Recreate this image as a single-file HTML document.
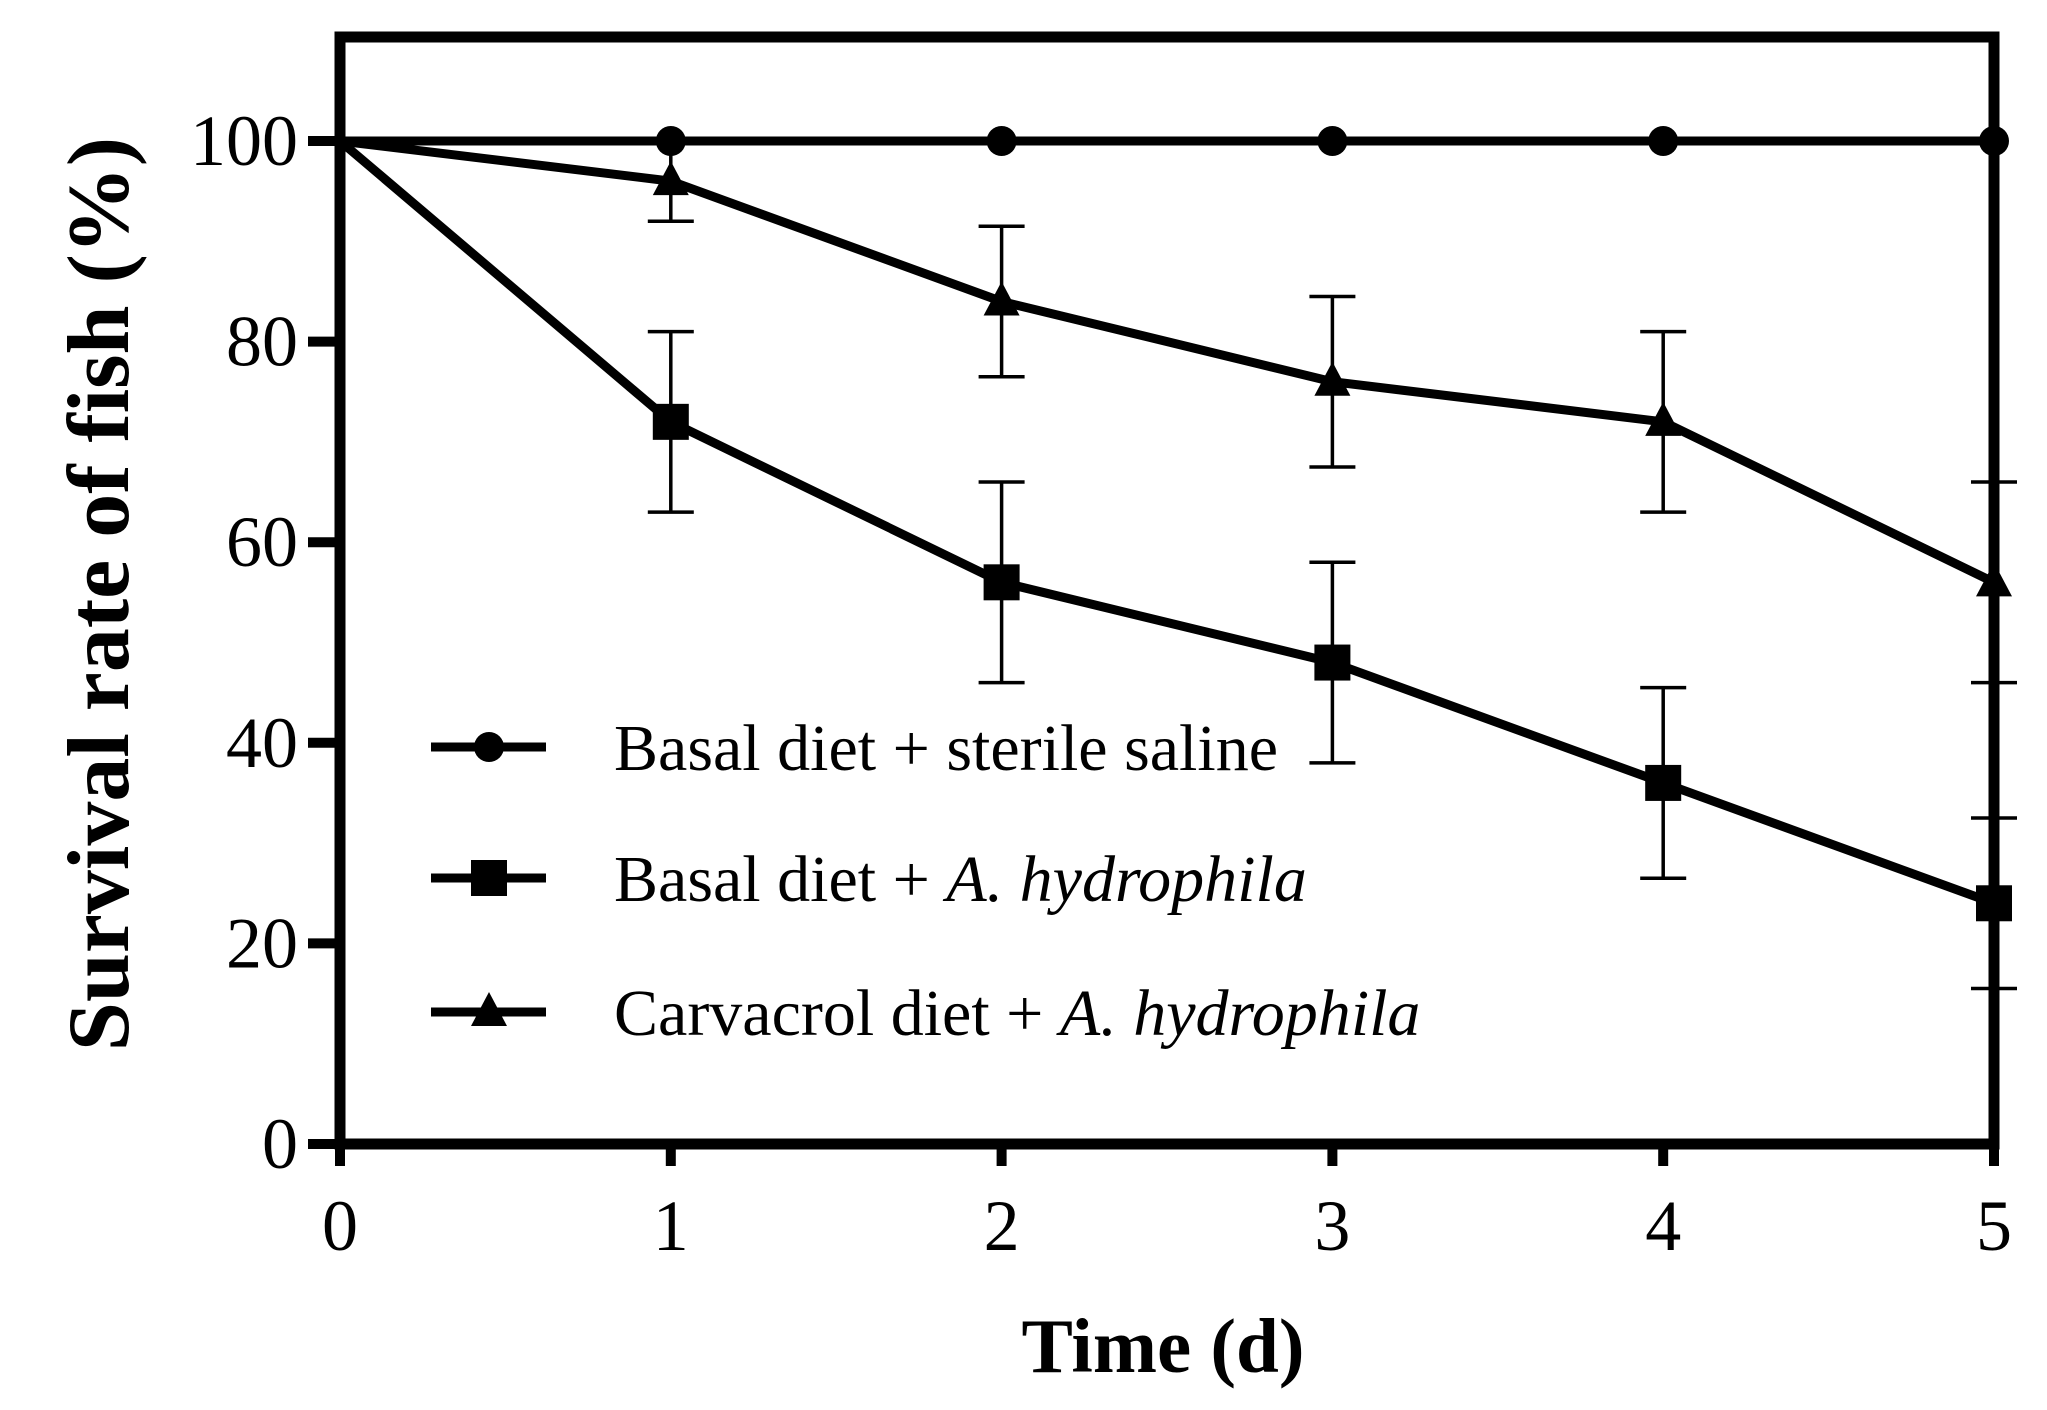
<!DOCTYPE html>
<html><head><meta charset="utf-8"><style>
html,body{margin:0;padding:0;background:#fff;}
svg{display:block;font-family:"Liberation Serif",serif;}
</style></head><body>
<svg id="chart" width="2047" height="1410" viewBox="0 0 2047 1410">
<g id="frame"></g><g id="series"></g><g id="legend"></g>
<text x="1163" y="1372" text-anchor="middle" font-size="77" font-weight="bold">Time (d)</text>
<text transform="translate(128,594) rotate(-90)" text-anchor="middle" font-size="88" font-weight="bold">Survival rate of fish (%)</text>
</svg>
<script>
const days=[0,1,2,3,4,5];
const salineVals=[100,100,100,100,100,100];
const basalVals=[100,72,56,48,36,24];
const basalErr=[0,9,10,10,9.5,8.5];
const carvVals=[100,96,84,76,72,56];
const carvErr=[0,4,7.5,8.5,9,10];
const yTicks=[0,20,40,60,80,100];
const xTicks=[0,1,2,3,4,5];
const NS='http://www.w3.org/2000/svg';
const X0=340,X1=1994,Y0=1144,Y100=141,TOP=37;
const xs=d=>X0+(X1-X0)*d/5;
const ys=v=>Y0-(Y0-Y100)*v/100;
function mk(tag,attrs,parent){const e=document.createElementNS(NS,tag);for(const k in attrs)e.setAttribute(k,attrs[k]);parent.appendChild(e);return e;}
const frame=document.getElementById('frame'),ser=document.getElementById('series'),leg=document.getElementById('legend');
let r=mk('path',{d:`M${X0},${Y0}V${TOP}H${X1}V${Y0}Z`,fill:'none',stroke:'#000','stroke-width':11},frame);


yTicks.forEach(v=>{
 const t=mk('line',{x1:X0-32,x2:X0,y1:ys(v),y2:ys(v),stroke:'#000','stroke-width':10},frame);
 
 
 const l=mk('text',{x:X0-42,y:ys(v)+24,'text-anchor':'end','font-size':72},frame);l.textContent=v;
 
 
});
xTicks.forEach(v=>{
 const t=mk('line',{x1:xs(v),x2:xs(v),y1:Y0,y2:Y0+22,stroke:'#000','stroke-width':10},frame);
 
 
 const l=mk('text',{x:xs(v),y:1250,'text-anchor':'middle','font-size':72},frame);l.textContent=v;
 
 
});
function marker(type,cx,cy,g){
 if(type==='circle')return mk('circle',{cx,cy,r:15,fill:'#000'},g);
 if(type==='square')return mk('rect',{x:cx-18,y:cy-18,width:36,height:36,fill:'#000'},g);
 return mk('polygon',{points:`${cx},${cy-20} ${cx-18},${cy+14} ${cx+18},${cy+14}`,fill:'#000'},g);
}
function series(name,vals,errs,type){
 const g=mk('g',{},ser);
 
 
 const p=mk('polyline',{points:days.map((d,i)=>xs(d)+','+ys(vals[i])).join(' '),fill:'none',stroke:'#000','stroke-width':9,'stroke-linejoin':'round'},g);
 
 
 days.forEach((d,i)=>{
  if(errs&&errs[i]>0){
   const x=xs(d),a=ys(vals[i]+errs[i]),b=ys(vals[i]-errs[i]);
   const e=mk('path',{d:`M${x},${a}V${b}M${x-23},${a}H${x+23}M${x-23},${b}H${x+23}`,stroke:'#000','stroke-width':3.5,fill:'none'},g);
   
   
  }
  if(d>0){const m=marker(type,xs(d),ys(vals[i]),g);
   
   }
 });
}
series('saline-series',salineVals,null,'circle');
series('basal-hydrophila-series',basalVals,basalErr,'square');
series('carvacrol-hydrophila-series',carvVals,carvErr,'triangle');
const legItems=[['circle','Basal diet + sterile saline',''],['square','Basal diet + ','A. hydrophila'],['triangle','Carvacrol diet + ','A. hydrophila']];
const legY=[747,878,1012];
legItems.forEach((it,i)=>{
 const g=mk('g',{},leg);
 
 
 mk('line',{x1:431,x2:546,y1:legY[i],y2:legY[i],stroke:'#000','stroke-width':9},g);
 marker(it[0],489,legY[i],g);
 const t=mk('text',{x:614,y:legY[i]+23,'font-size':66},g);
 t.appendChild(document.createTextNode(it[1]));
 if(it[2]){const s=mk('tspan',{'font-style':'italic'},t);s.textContent=it[2];}
});
</script>
</body></html>
